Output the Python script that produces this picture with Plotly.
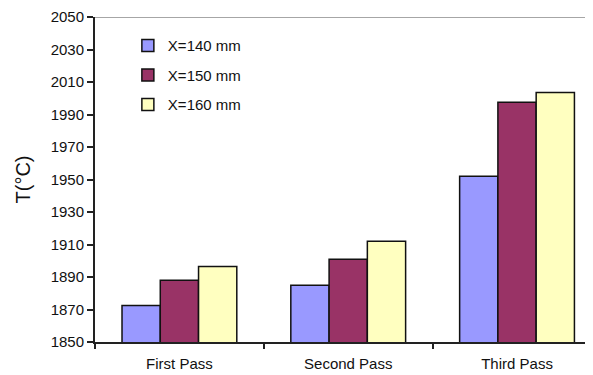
import plotly.graph_objects as go

categories = ["First Pass", "Second Pass", "Third Pass"]
series_names = ["X=140 mm", "X=150 mm", "X=160 mm"]
x140 = [1872.5, 1885, 1952]
x150 = [1888, 1901, 1997.5]
x160 = [1896.5, 1912, 2003.5]
series_values = [x140, x150, x160]
colors = ["#9999FF", "#993366", "#FFFFC0"]
y_ticks = list(range(1850, 2051, 20))

fig = go.Figure()
for i, (name, vals, col) in enumerate(zip(series_names, series_values, colors)):
    fig.add_trace(go.Bar(
        x=categories, y=vals, name=name, legendgroup=name,
        marker=dict(color=col, line=dict(color="#111111", width=1.5)),
    ))

font_fam = "Arial, Liberation Sans, sans-serif"
fig.update_layout(
    width=585, height=367,
    margin=dict(l=87, r=0, t=6, b=33),
    paper_bgcolor="white", plot_bgcolor="white",
    barmode="group", bargap=0.32, bargroupgap=0,
    font=dict(family=font_fam, size=15, color="#111111"),
    showlegend=True,
    legend=dict(x=0.066, y=0.962, xanchor="left", yanchor="top",
                bgcolor="rgba(0,0,0,0)", traceorder="grouped",
                tracegroupgap=7, font=dict(size=15)),
    xaxis=dict(range=[-0.5, 2.45], showline=True, linecolor="#222222", linewidth=2,
               ticks="outside", tickson="boundaries", ticklen=5, tickwidth=1.5,
               tickcolor="#222222", showgrid=False, tickfont=dict(size=15),
               ticklabelstandoff=7),
    yaxis=dict(range=[1850, 2050], tickvals=y_ticks, showline=True,
               linecolor="#222222", linewidth=2, ticks="outside", ticklen=6,
               tickwidth=1.5, tickcolor="#222222", showgrid=False, zeroline=False,
               tickfont=dict(size=15), ticklabeloverflow="allow",
               title=dict(text="T(°C)", font=dict(size=20), standoff=15)),
    shapes=[dict(type="line", xref="paper", yref="y", x0=0, x1=0.99, y0=2050, y1=2050,
                 line=dict(color="#888888", width=1.5))],
)

fig.write_html("out.html")
